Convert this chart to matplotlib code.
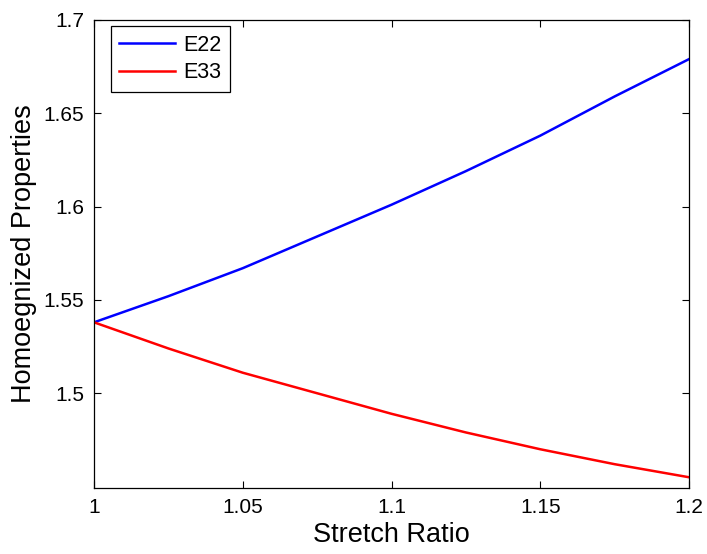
import matplotlib
matplotlib.use("Agg")
import matplotlib.pyplot as plt

# values
stretch = [1.0, 1.025, 1.05, 1.075, 1.1, 1.125, 1.15, 1.175, 1.2]
e22 = [1.538, 1.552, 1.567, 1.584, 1.601, 1.619, 1.638, 1.659, 1.679]
e33 = [1.538, 1.524, 1.511, 1.500, 1.489, 1.479, 1.470, 1.462, 1.455]
xticks = [1.0, 1.05, 1.1, 1.15, 1.2]
xtick_labels = ["1", "1.05", "1.1", "1.15", "1.2"]
yticks = [1.5, 1.55, 1.6, 1.65, 1.7]
ytick_labels = ["1.5", "1.55", "1.6", "1.65", "1.7"]

plt.rcParams["font.family"] = ["Liberation Sans", "DejaVu Sans"]

fig = plt.figure(figsize=(7.07, 5.54), dpi=100)
ax = fig.add_axes([0.133, 0.119, 0.8415, 0.845])

ax.plot(stretch, e22, color="#0000ff", lw=1.8, label="E22")
ax.plot(stretch, e33, color="#ff0000", lw=1.8, label="E33")

ax.set_xlim(1.0, 1.2)
ax.set_ylim(1.4492, 1.7)
ax.set_xticks(xticks)
ax.set_xticklabels(xtick_labels)
ax.set_yticks(yticks)
ax.set_yticklabels(ytick_labels)
ax.tick_params(direction="in", top=True, right=True, length=5, width=0.8,
               labelsize=15, pad=7)
for s in ax.spines.values():
    s.set_linewidth(0.9)

ax.set_xlabel("Stretch Ratio", fontsize=19.5, labelpad=4)
ax.set_ylabel("Homoegnized Properties", fontsize=19.5, labelpad=5)

leg = ax.legend(loc="upper left", bbox_to_anchor=(0.028, 0.987),
                borderaxespad=0, fontsize=15.5, fancybox=False,
                framealpha=1, edgecolor="black", handlelength=2.6,
                handletextpad=0.35, labelspacing=0.3, borderpad=0.4)
leg.get_frame().set_linewidth(0.9)

fig.savefig("out.png", dpi=100)
